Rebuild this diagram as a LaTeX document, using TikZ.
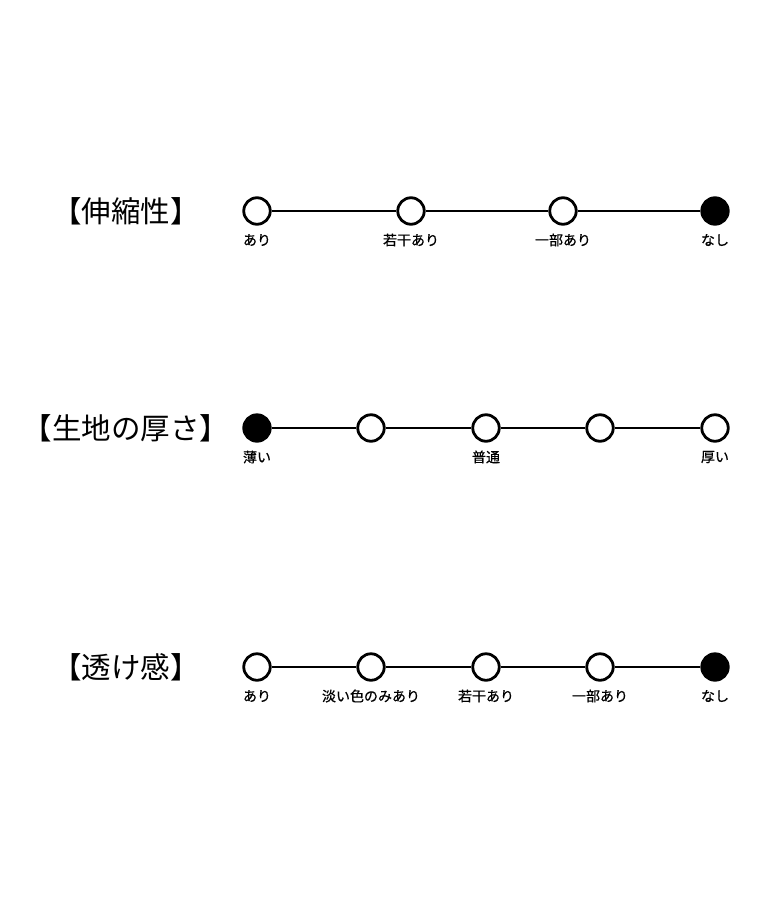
\documentclass[tikz,border=0pt]{standalone}
\usepackage{fontspec}
\setmainfont{Noto Sans CJK JP}
\newfontfamily\labfont[FakeBold=0.6]{Noto Sans CJK JP}
\begin{document}
\begin{tikzpicture}[x=1pt,y=-1pt,
  dot/.style={circle,draw=black,line width=2.8pt,minimum size=26.5pt,inner sep=0pt,fill=white},
  full/.style={dot,fill=black},
  conn/.style={line width=2.7pt},
  lab/.style={font=\labfont\fontsize{14}{15}\selectfont,inner sep=0pt,anchor=center},
  ttl/.style={font=\fontsize{29.5}{31}\selectfont,inner sep=0pt,anchor=center}]
\useasboundingbox[fill=white] (0,0) rectangle (768,900);
% row 1
\node[ttl] (t1) at (126,211) {【伸縮性】};
\node[dot] (a1) at (257,211) {};
\node[dot] (a2) at (411,211) {};
\node[dot] (a3) at (563,211) {};
\node[full] (a4) at (715,211) {};
\draw[conn] (a1) -- (a2) (a2) -- (a3) (a3) -- (a4);
\node[lab] (la1) at (257,240) {あり};
\node[lab] (la2) at (411,240) {若干あり};
\node[lab] (la3) at (563,240) {一部あり};
\node[lab] (la4) at (715,240) {なし};
% row 2
\node[ttl] (t2) at (126,428) {【生地の厚さ】};
\node[full] (b1) at (257,428) {};
\node[dot] (b2) at (371,428) {};
\node[dot] (b3) at (486,428) {};
\node[dot] (b4) at (600,428) {};
\node[dot] (b5) at (715,428) {};
\draw[conn] (b1) -- (b2) (b2) -- (b3) (b3) -- (b4) (b4) -- (b5);
\node[lab] (lb1) at (257,457) {薄い};
\node[lab] (lb3) at (486,457) {普通};
\node[lab] (lb5) at (715,457) {厚い};
% row 3
\node[ttl] (t3) at (126,667) {【透け感】};
\node[dot] (c1) at (257,667) {};
\node[dot] (c2) at (371,667) {};
\node[dot] (c3) at (486,667) {};
\node[dot] (c4) at (600,667) {};
\node[full] (c5) at (715,667) {};
\draw[conn] (c1) -- (c2) (c2) -- (c3) (c3) -- (c4) (c4) -- (c5);
\node[lab] (lc1) at (257,696) {あり};
\node[lab] (lc2) at (371,696) {淡い色のみあり};
\node[lab] (lc3) at (486,696) {若干あり};
\node[lab] (lc4) at (600,696) {一部あり};
\node[lab] (lc5) at (715,696) {なし};
\end{tikzpicture}
\end{document}
